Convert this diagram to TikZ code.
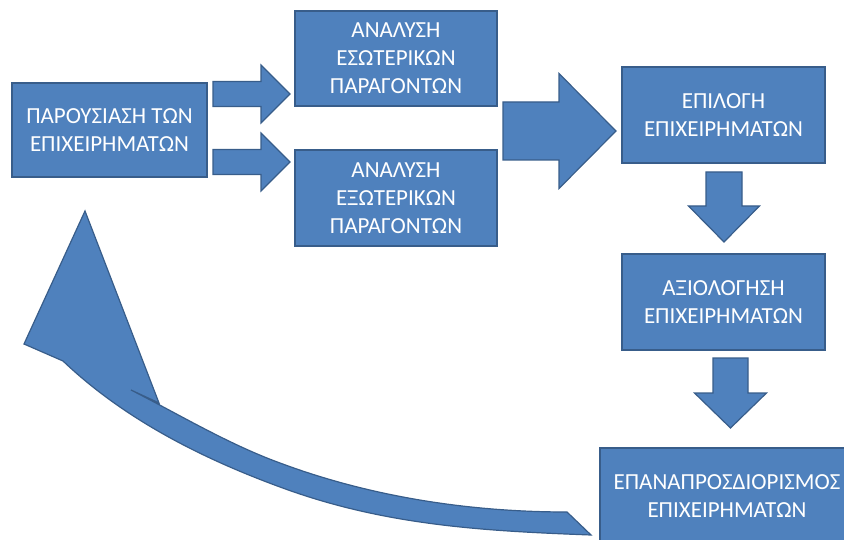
\documentclass[tikz,border=0pt]{standalone}
\usepackage{fontspec}
\setmainfont{Carlito}
\definecolor{boxfill}{HTML}{4F81BD}
\definecolor{boxline}{HTML}{385D8A}
\tikzset{
  stepbox/.style={draw=boxline, fill=boxfill, line width=1.2pt, text=white,
    align=center, inner sep=0pt, font=\fontsize{23}{28}\selectfont},
  blockarrow/.style={draw=boxline, fill=boxfill, line width=1.2pt, line join=miter},
}
% right-pointing block arrow: {start x}{head base x}{tip x}{centre y}{half shaft}{half head}
\newcommand\rightblock[6]{%
  \draw[blockarrow] (#1,{#4-#5}) -- (#2,{#4-#5}) -- (#2,{#4-#6}) -- (#3,#4)
    -- (#2,{#4+#6}) -- (#2,{#4+#5}) -- (#1,{#4+#5}) -- cycle;}
% down-pointing block arrow: {centre x}{start y}{head base y}{tip y}{half shaft}{half head}
\newcommand\downblock[6]{%
  \draw[blockarrow] ({#1-#5},#2) -- ({#1+#5},#2) -- ({#1+#5},#3) -- ({#1+#6},#3)
    -- (#1,#4) -- ({#1-#6},#3) -- ({#1-#5},#3) -- cycle;}
\begin{document}
\begin{tikzpicture}[x=1pt,y=-1pt]
\useasboundingbox (0,0) rectangle (844,540);
\clip (0,0) rectangle (844,540);

% steps
\node[stepbox, minimum width=195pt, minimum height=94pt] (pres) at (109.5,130)
  {ΠΑΡΟΥΣΙΑΣΗ ΤΩΝ\\ΕΠΙΧΕΙΡΗΜΑΤΩΝ};
\node[stepbox, minimum width=202pt, minimum height=95pt] (esot) at (396,58.5)
  {ΑΝΑΛΥΣΗ\\ΕΣΩΤΕΡΙΚΩΝ\\ΠΑΡΑΓΟΝΤΩΝ};
\node[stepbox, minimum width=202pt, minimum height=96pt] (exot) at (396,198)
  {ΑΝΑΛΥΣΗ\\ΕΞΩΤΕΡΙΚΩΝ\\ΠΑΡΑΓΟΝΤΩΝ};
\node[stepbox, minimum width=203pt, minimum height=96pt] (epil) at (723.5,115)
  {ΕΠΙΛΟΓΗ\\ΕΠΙΧΕΙΡΗΜΑΤΩΝ};
\node[stepbox, minimum width=203pt, minimum height=96pt] (axio) at (723.5,302)
  {ΑΞΙΟΛΟΓΗΣΗ\\ΕΠΙΧΕΙΡΗΜΑΤΩΝ};
\node[stepbox, minimum width=254pt, minimum height=96pt] (epan) at (727,496)
  {ΕΠΑΝΑΠΡΟΣΔΙΟΡΙΣΜΟΣ\\ΕΠΙΧΕΙΡΗΜΑΤΩΝ};

% block arrows between steps
\rightblock{213}{261}{290}{94}{12.5}{29}
\rightblock{213}{261}{290}{162}{12.5}{29}
\rightblock{503}{559}{616}{131}{29}{57.5}
\downblock{724}{172}{206}{242}{18}{35.5}
\downblock{730.5}{358}{393}{428}{17.5}{36}

% curved return arrow
\draw[blockarrow] (591,535)
  .. controls (486,531) and (385,526) .. (280,487)
  .. controls (201,458) and (124,419) .. (63,361)
  -- (24,344) -- (85,211) -- (159,403) -- (131,390)
  .. controls (180,415) and (228,444) .. (280,463)
  .. controls (371,497) and (470,512) .. (567,512)
  -- cycle;
\end{tikzpicture}
\end{document}
